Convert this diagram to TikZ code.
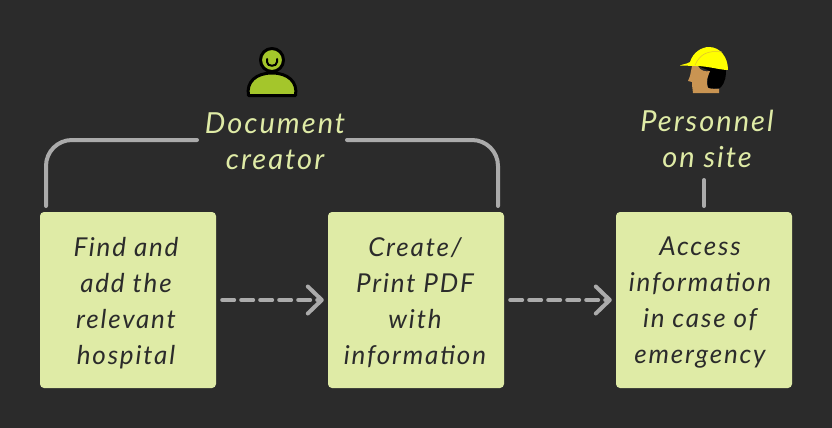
\documentclass[tikz,border=0pt]{standalone}
\usepackage{fontspec}
\setmainfont[ItalicFont=Lato Italic,LetterSpace=7]{Lato}
\usetikzlibrary{arrows.meta,calc}
\definecolor{bgc}{HTML}{2B2B2B}
\definecolor{boxc}{HTML}{DFEBA6}
\definecolor{linec}{HTML}{ABABAB}
\definecolor{personc}{HTML}{A4C62B}
\definecolor{helmc}{HTML}{FFFF00}
\definecolor{skinc}{HTML}{C99452}
\tikzset{
  x=1pt,y=-1pt,
  stepbox/.style={fill=boxc,rounded corners=4pt,minimum width=176pt,minimum height=176pt,inner sep=0pt,align=center,text=bgc},
  boxtext/.style={inner sep=0pt,align=center,text=bgc,font=\fontsize{26}{36}\selectfont\itshape},
  rolelabel/.style={text=boxc,inner sep=0pt,align=center,font=\fontsize{29}{36}\selectfont\itshape},
  link/.style={draw=linec,line width=4pt,line cap=round},
  flow/.style={link,dash pattern=on 12pt off 7pt,dash phase=0pt,shorten <=6pt,shorten >=4pt,-{Straight Barb[length=14pt,width=27pt,line width=4pt,round]}},
  iconline/.style={draw=black,line width=3pt,line join=round}
}
\begin{document}
\begin{tikzpicture}
\useasboundingbox (0,0) rectangle (832,428);
\fill[bgc] (0,0) rectangle (832,428);
\node[stepbox] (b1) at (128,300) {};
\node[stepbox] (b2) at (416,300) {};
\node[stepbox] (b3) at (704,300) {};
\node[boxtext] (t1) at (126,303) {Find and\\add the\\relevant\\hospital};
\node[boxtext] (t2) at (415,303) {Create/\\Print PDF\\with\\information};
\node[boxtext] (t3) at (700,303) {Access\\information\\in case of\\emergency};
\node[rolelabel] (doc) at (275,141) {Document\\creator};
\node[rolelabel] (site) at (707,139) {Personnel\\on site};
% connectors
\draw[flow] (b1.east) -- (b2.west);
\draw[flow] (b2.east) -- (b3.west);
\coordinate (la) at (197,140);
\coordinate (lb) at (347,140);
\coordinate (l1) at (46,206);
\coordinate (r1) at (498,206);
\coordinate (s1) at (704,180);
\coordinate (s2) at (704,206);
\draw[link,rounded corners=26pt] (l1) -- (46,140) -- (la);
\draw[link,rounded corners=26pt] (r1) -- (498,140) -- (lb);
\draw[link] (s1) -- (s2);
% person icon
\draw[iconline,fill=personc] (248.5,95.5) .. controls (246,82) and (256,73) .. (272,73) .. controls (288,73) and (298,82) .. (295.5,95.5) -- cycle;
\draw[iconline,fill=personc] (272,60) circle (11.5);
\draw[draw=black,line width=2pt,line cap=round] (267,59) -- (267,62) .. controls (267,67) and (277,67) .. (277,62) -- (277,59);
% helmet worker
\fill[black] (698,66) -- (726,66) .. controls (726,76) and (726,82) .. (720,88) -- (709,89) .. controls (706,82) and (708,76) .. (710,71) -- cycle;
\fill[skinc] (692,66) -- (698,66) .. controls (700,71) and (706,72) .. (710,71) .. controls (708,76) and (705,82) .. (708,88) .. controls (712,89) and (717,89) .. (719,89) -- (719,93) -- (693,93) -- (692,85) -- (692,82) -- (688,81) -- (690,76) -- cycle;
\fill[helmc] (680,65.5) .. controls (683,64) and (687,64) .. (690,62) .. controls (693,52) and (702,47) .. (709,47) .. controls (720,47) and (728,57) .. (728,70) .. controls (720,70) and (708,66) .. (696,66) -- cycle;
\draw[draw=skinc!60!helmc,line width=.5pt] (695,65) .. controls (700,54) and (708,50) .. (722,52);
\end{tikzpicture}
\end{document}
